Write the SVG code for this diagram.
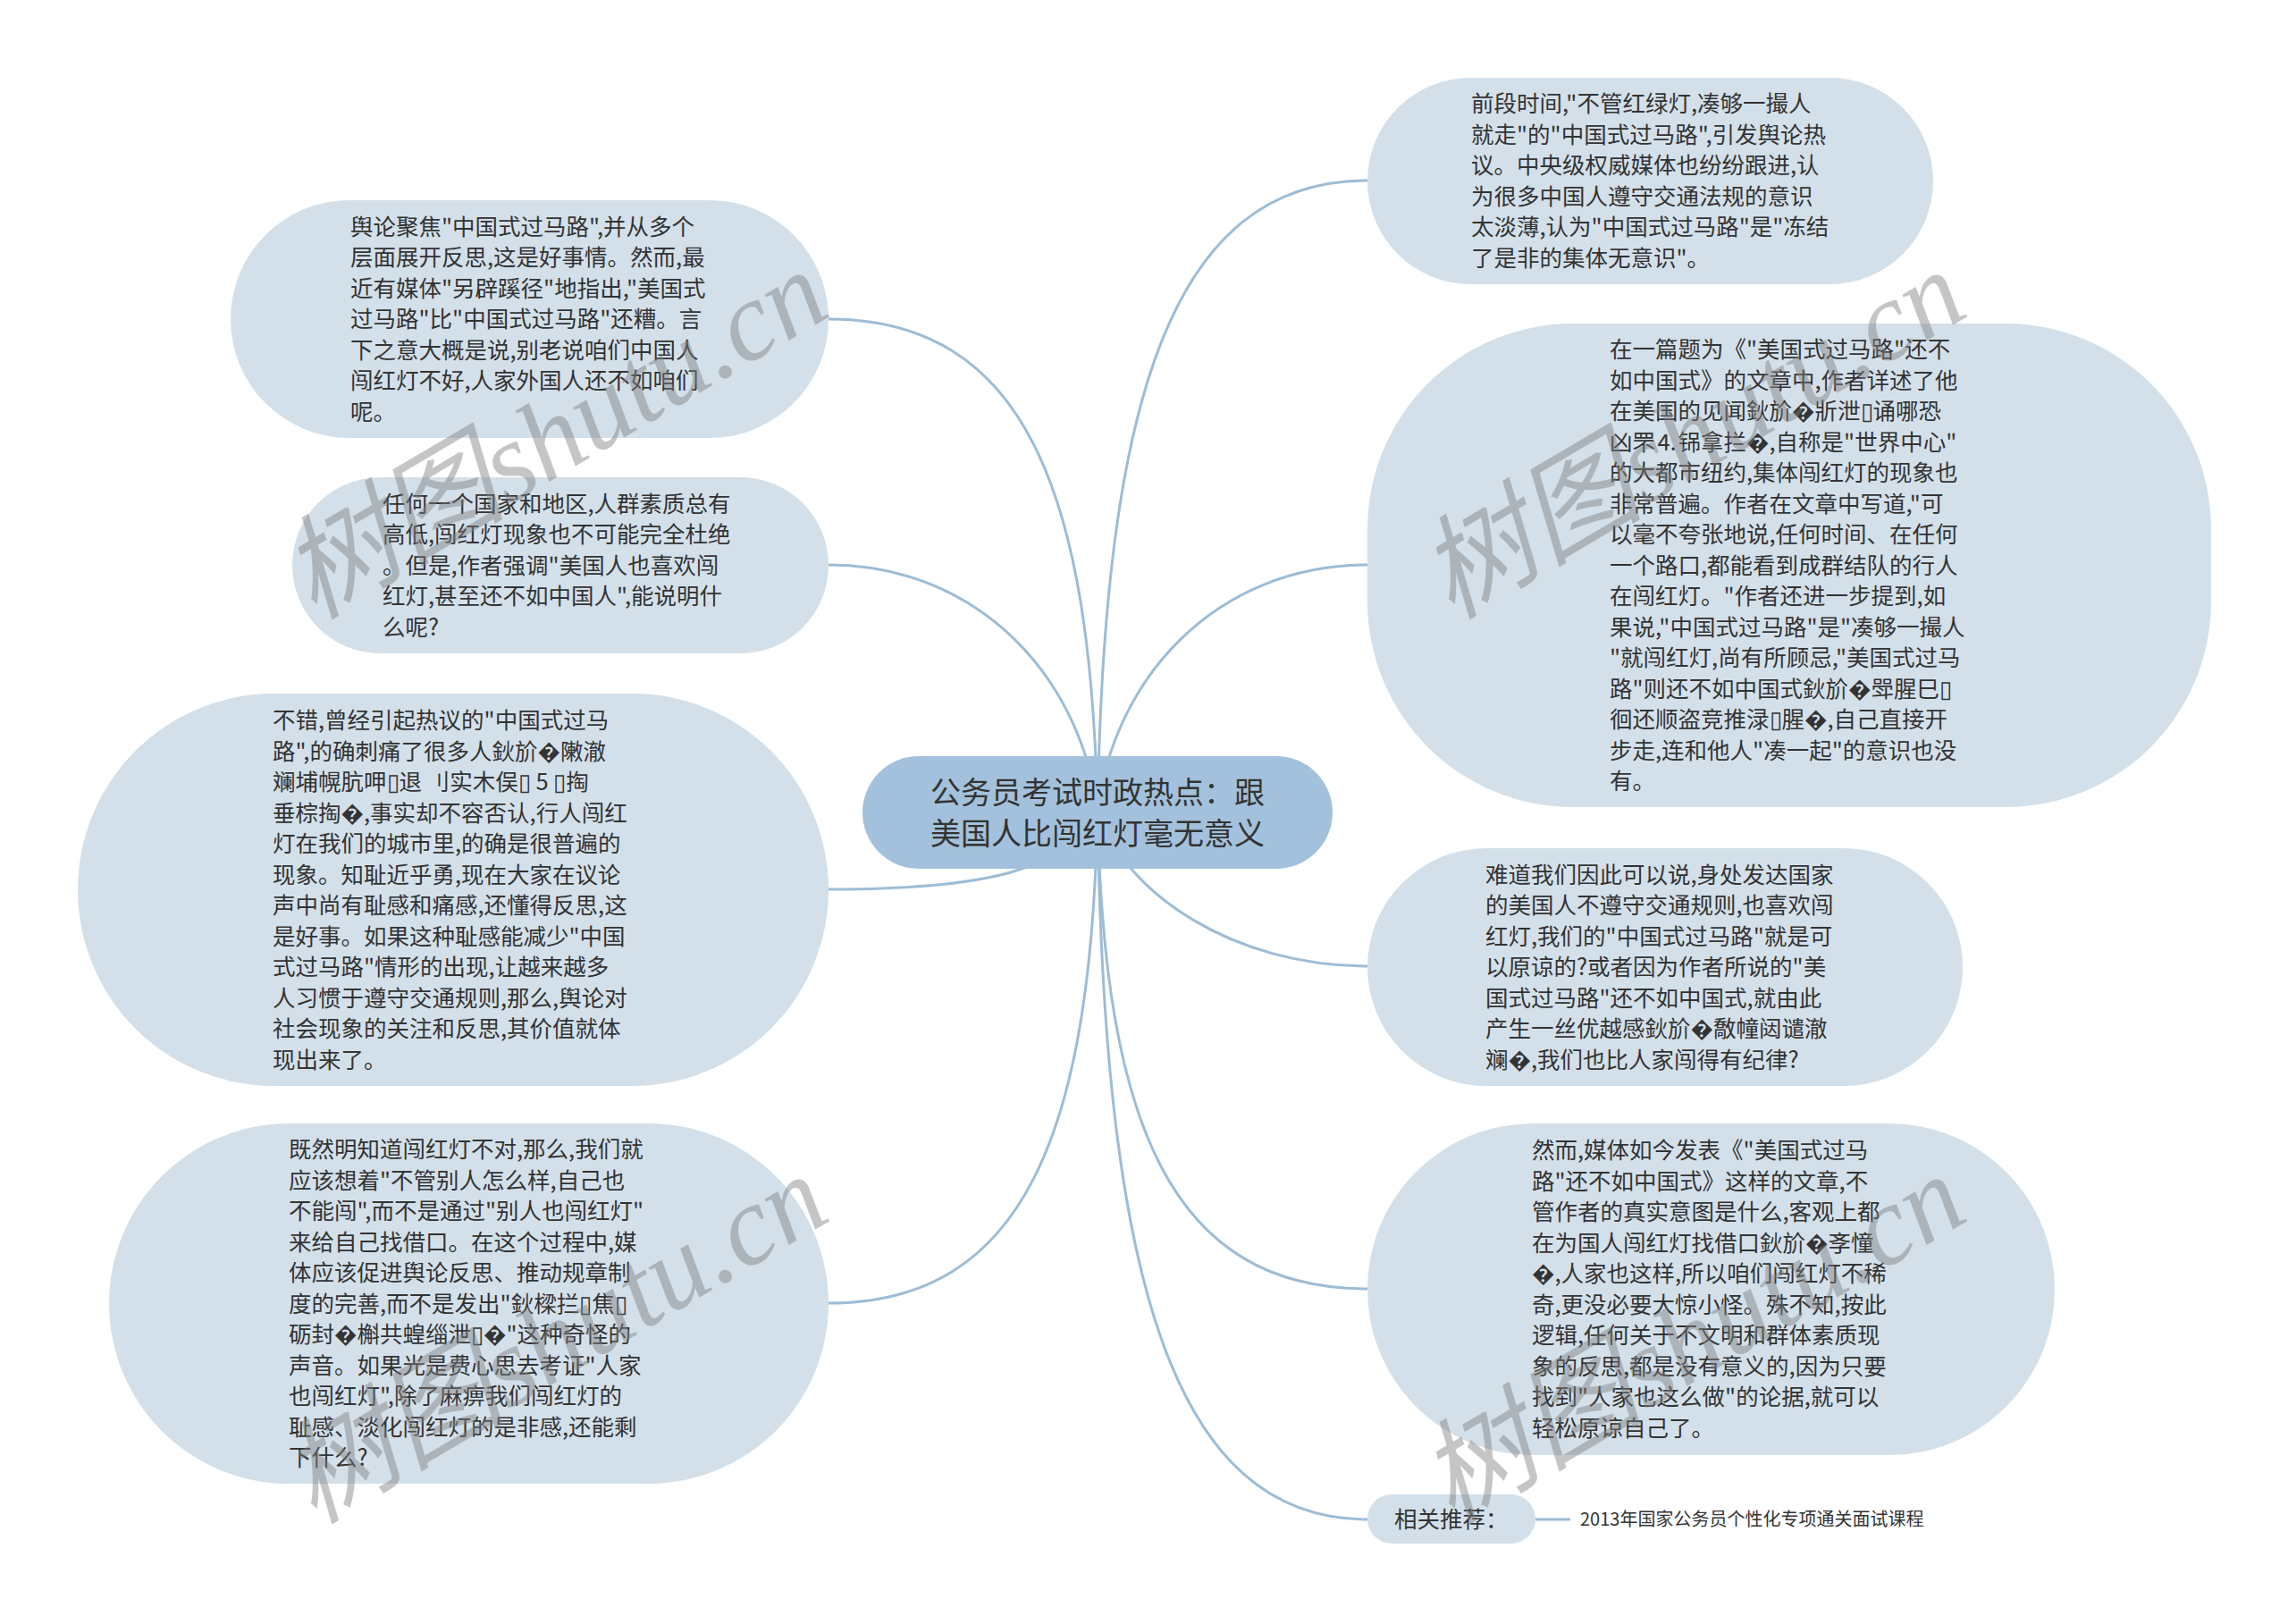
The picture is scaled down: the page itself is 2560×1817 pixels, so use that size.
<svg xmlns="http://www.w3.org/2000/svg" width="2560" height="1817" viewBox="0 0 2560 1817">
<style>
.n{fill:#d3e0ea}
.c{fill:#a3c1dc}
.t{font-family:"Noto Sans CJK SC","Noto Sans",sans-serif;font-size:25.5px;fill:#333}
.h{font-family:"Noto Sans CJK SC","Noto Sans",sans-serif;font-size:34px;fill:#333;text-anchor:middle}
.s{font-family:"Noto Sans CJK SC","Noto Sans",sans-serif;font-size:20px;fill:#333}
.l{fill:none;stroke:#9dbcd6;stroke-width:3}
.wm{font-family:"Liberation Serif","Noto Sans CJK SC",serif;font-style:italic;font-size:126px;fill:#7f7f7f;opacity:0.45}
</style>
<rect width="2560" height="1817" fill="#ffffff"/>
<g id="connectors">
<path class="l" d="M1228 909 C1235.5 450 1309.5 202 1530 202"/>
<path class="l" d="M1228 909 C1245 760 1360 632 1530 632"/>
<path class="l" d="M1228 909 C1260 1000 1380 1081 1530 1081"/>
<path class="l" d="M1228 909 C1235.5 1255 1309.5 1442 1530 1442"/>
<path class="l" d="M1228 909 C1235.5 1423 1309.5 1700 1530 1700"/>
<path class="l" d="M1228 909 C1220.5 550 1147 357 927 357"/>
<path class="l" d="M1228 909 C1211 760 1096 632 927 632"/>
<path class="l" d="M1228 909 C1190 975 1100 995 927 995"/>
<path class="l" d="M1228 909 C1220.5 1266 1147 1458 927 1458"/>
<path class="l" d="M1718 1700 L1757 1700"/>
</g>
<g id="center">
<rect class="c" x="965" y="846" width="526" height="126" rx="63"/>
<text class="h" x="1228" y="899">公务员考试时政热点：跟</text>
<text class="h" x="1228" y="945">美国人比闯红灯毫无意义</text>
</g>
<g id="nodeA">
<rect class="n" x="1530" y="87" width="633" height="231" rx="115.5"/>
<text class="t" x="1646" y="125"><tspan x="1646">前段时间,"不管红绿灯,凑够一撮人</tspan><tspan x="1646" dy="34.5">就走"的"中国式过马路",引发舆论热</tspan><tspan x="1646" dy="34.5">议。中央级权威媒体也纷纷跟进,认</tspan><tspan x="1646" dy="34.5">为很多中国人遵守交通法规的意识</tspan><tspan x="1646" dy="34.5">太淡薄,认为"中国式过马路"是"冻结</tspan><tspan x="1646" dy="34.5">了是非的集体无意识"。</tspan></text>
</g>
<g id="nodeB">
<rect class="n" x="1530" y="362" width="944" height="541" rx="230"/>
<text class="t" x="1801" y="400"><tspan x="1801">在一篇题为《"美国式过马路"还不</tspan><tspan x="1801" dy="34.5">如中国式》的文章中,作者详述了他</tspan><tspan x="1801" dy="34.5">在美国的见闻鈥斺�斨泄▯诵哪恐</tspan><tspan x="1801" dy="34.5">凶罘⒋铞拿拦�,自称是"世界中心"</tspan><tspan x="1801" dy="34.5">的大都市纽约,集体闯红灯的现象也</tspan><tspan x="1801" dy="34.5">非常普遍。作者在文章中写道,"可</tspan><tspan x="1801" dy="34.5">以毫不夸张地说,任何时间、在任何</tspan><tspan x="1801" dy="34.5">一个路口,都能看到成群结队的行人</tspan><tspan x="1801" dy="34.5">在闯红灯。"作者还进一步提到,如</tspan><tspan x="1801" dy="34.5">果说,"中国式过马路"是"凑够一撮人</tspan><tspan x="1801" dy="34.5">"就闯红灯,尚有所顾忌,"美国式过马</tspan><tspan x="1801" dy="34.5">路"则还不如中国式鈥斺�斝腥巳▯</tspan><tspan x="1801" dy="34.5">徊还顺盗竞推渌▯腥�,自己直接开</tspan><tspan x="1801" dy="34.5">步走,连和他人"凑一起"的意识也没</tspan><tspan x="1801" dy="34.5">有。</tspan></text>
</g>
<g id="nodeC">
<rect class="n" x="1530" y="949" width="666" height="266" rx="133"/>
<text class="t" x="1662" y="987.5"><tspan x="1662">难道我们因此可以说,身处发达国家</tspan><tspan x="1662" dy="34.5">的美国人不遵守交通规则,也喜欢闯</tspan><tspan x="1662" dy="34.5">红灯,我们的"中国式过马路"就是可</tspan><tspan x="1662" dy="34.5">以原谅的?或者因为作者所说的"美</tspan><tspan x="1662" dy="34.5">国式过马路"还不如中国式,就由此</tspan><tspan x="1662" dy="34.5">产生一丝优越感鈥斺�敿幢闼谴澈</tspan><tspan x="1662" dy="34.5">斓�,我们也比人家闯得有纪律?</tspan></text>
</g>
<g id="nodeD">
<rect class="n" x="1530" y="1257" width="769" height="371" rx="185.5"/>
<text class="t" x="1714" y="1296"><tspan x="1714">然而,媒体如今发表《"美国式过马</tspan><tspan x="1714" dy="34.5">路"还不如中国式》这样的文章,不</tspan><tspan x="1714" dy="34.5">管作者的真实意图是什么,客观上都</tspan><tspan x="1714" dy="34.5">在为国人闯红灯找借口鈥斺�斈憧</tspan><tspan x="1714" dy="34.5">�,人家也这样,所以咱们闯红灯不稀</tspan><tspan x="1714" dy="34.5">奇,更没必要大惊小怪。殊不知,按此</tspan><tspan x="1714" dy="34.5">逻辑,任何关于不文明和群体素质现</tspan><tspan x="1714" dy="34.5">象的反思,都是没有意义的,因为只要</tspan><tspan x="1714" dy="34.5">找到"人家也这么做"的论据,就可以</tspan><tspan x="1714" dy="34.5">轻松原谅自己了。</tspan></text>
</g>
<g id="nodeE">
<rect class="n" x="1530" y="1672" width="188" height="55" rx="27.5"/>
<text class="t" x="1560" y="1709">相关推荐：</text>
</g>
<g id="link">
<text class="s" x="1768" y="1707">2013年国家公务员个性化专项通关面试课程</text>
</g>
<g id="nodeF">
<rect class="n" x="258" y="224" width="669" height="266" rx="133"/>
<text class="t" x="392" y="262.5"><tspan x="392">舆论聚焦"中国式过马路",并从多个</tspan><tspan x="392" dy="34.5">层面展开反思,这是好事情。然而,最</tspan><tspan x="392" dy="34.5">近有媒体"另辟蹊径"地指出,"美国式</tspan><tspan x="392" dy="34.5">过马路"比"中国式过马路"还糟。言</tspan><tspan x="392" dy="34.5">下之意大概是说,别老说咱们中国人</tspan><tspan x="392" dy="34.5">闯红灯不好,人家外国人还不如咱们</tspan><tspan x="392" dy="34.5">呢。</tspan></text>
</g>
<g id="nodeG">
<rect class="n" x="327" y="534" width="600" height="197" rx="98.5"/>
<text class="t" x="428" y="572.5"><tspan x="428">任何一个国家和地区,人群素质总有</tspan><tspan x="428" dy="34.5">高低,闯红灯现象也不可能完全杜绝</tspan><tspan x="428" dy="34.5">。但是,作者强调"美国人也喜欢闯</tspan><tspan x="428" dy="34.5">红灯,甚至还不如中国人",能说明什</tspan><tspan x="428" dy="34.5">么呢?</tspan></text>
</g>
<g id="nodeH">
<rect class="n" x="87" y="776" width="840" height="439" rx="219.5"/>
<text class="t" x="305" y="815"><tspan x="305">不错,曾经引起热议的"中国式过马</tspan><tspan x="305" dy="34.5">路",的确刺痛了很多人鈥斺�敶澈</tspan><tspan x="305" dy="34.5">斓埔幌肮呷▯退 刂实木俣▯ 5 ▯掏</tspan><tspan x="305" dy="34.5">垂棕掏�,事实却不容否认,行人闯红</tspan><tspan x="305" dy="34.5">灯在我们的城市里,的确是很普遍的</tspan><tspan x="305" dy="34.5">现象。知耻近乎勇,现在大家在议论</tspan><tspan x="305" dy="34.5">声中尚有耻感和痛感,还懂得反思,这</tspan><tspan x="305" dy="34.5">是好事。如果这种耻感能减少"中国</tspan><tspan x="305" dy="34.5">式过马路"情形的出现,让越来越多</tspan><tspan x="305" dy="34.5">人习惯于遵守交通规则,那么,舆论对</tspan><tspan x="305" dy="34.5">社会现象的关注和反思,其价值就体</tspan><tspan x="305" dy="34.5">现出来了。</tspan></text>
</g>
<g id="nodeI">
<rect class="n" x="122" y="1257" width="805" height="403" rx="201.5"/>
<text class="t" x="323" y="1295"><tspan x="323">既然明知道闯红灯不对,那么,我们就</tspan><tspan x="323" dy="34.5">应该想着"不管别人怎么样,自己也</tspan><tspan x="323" dy="34.5">不能闯",而不是通过"别人也闯红灯"</tspan><tspan x="323" dy="34.5">来给自己找借口。在这个过程中,媒</tspan><tspan x="323" dy="34.5">体应该促进舆论反思、推动规章制</tspan><tspan x="323" dy="34.5">度的完善,而不是发出"鈥樑拦▯焦▯</tspan><tspan x="323" dy="34.5">砺封�槲共蝗缁泄▯�"这种奇怪的</tspan><tspan x="323" dy="34.5">声音。如果光是费心思去考证"人家</tspan><tspan x="323" dy="34.5">也闯红灯",除了麻痹我们闯红灯的</tspan><tspan x="323" dy="34.5">耻感、淡化闯红灯的是非感,还能剩</tspan><tspan x="323" dy="34.5">下什么?</tspan></text>
</g>
<g id="watermarks">
<text class="wm" transform="translate(351 694) rotate(-30.5)">树图shutu.cn</text>
<text class="wm" transform="translate(1624 694) rotate(-30.5)">树图shutu.cn</text>
<text class="wm" transform="translate(351 1706) rotate(-30.5)">树图shutu.cn</text>
<text class="wm" transform="translate(1624 1706) rotate(-30.5)">树图shutu.cn</text>
</g>
</svg>
